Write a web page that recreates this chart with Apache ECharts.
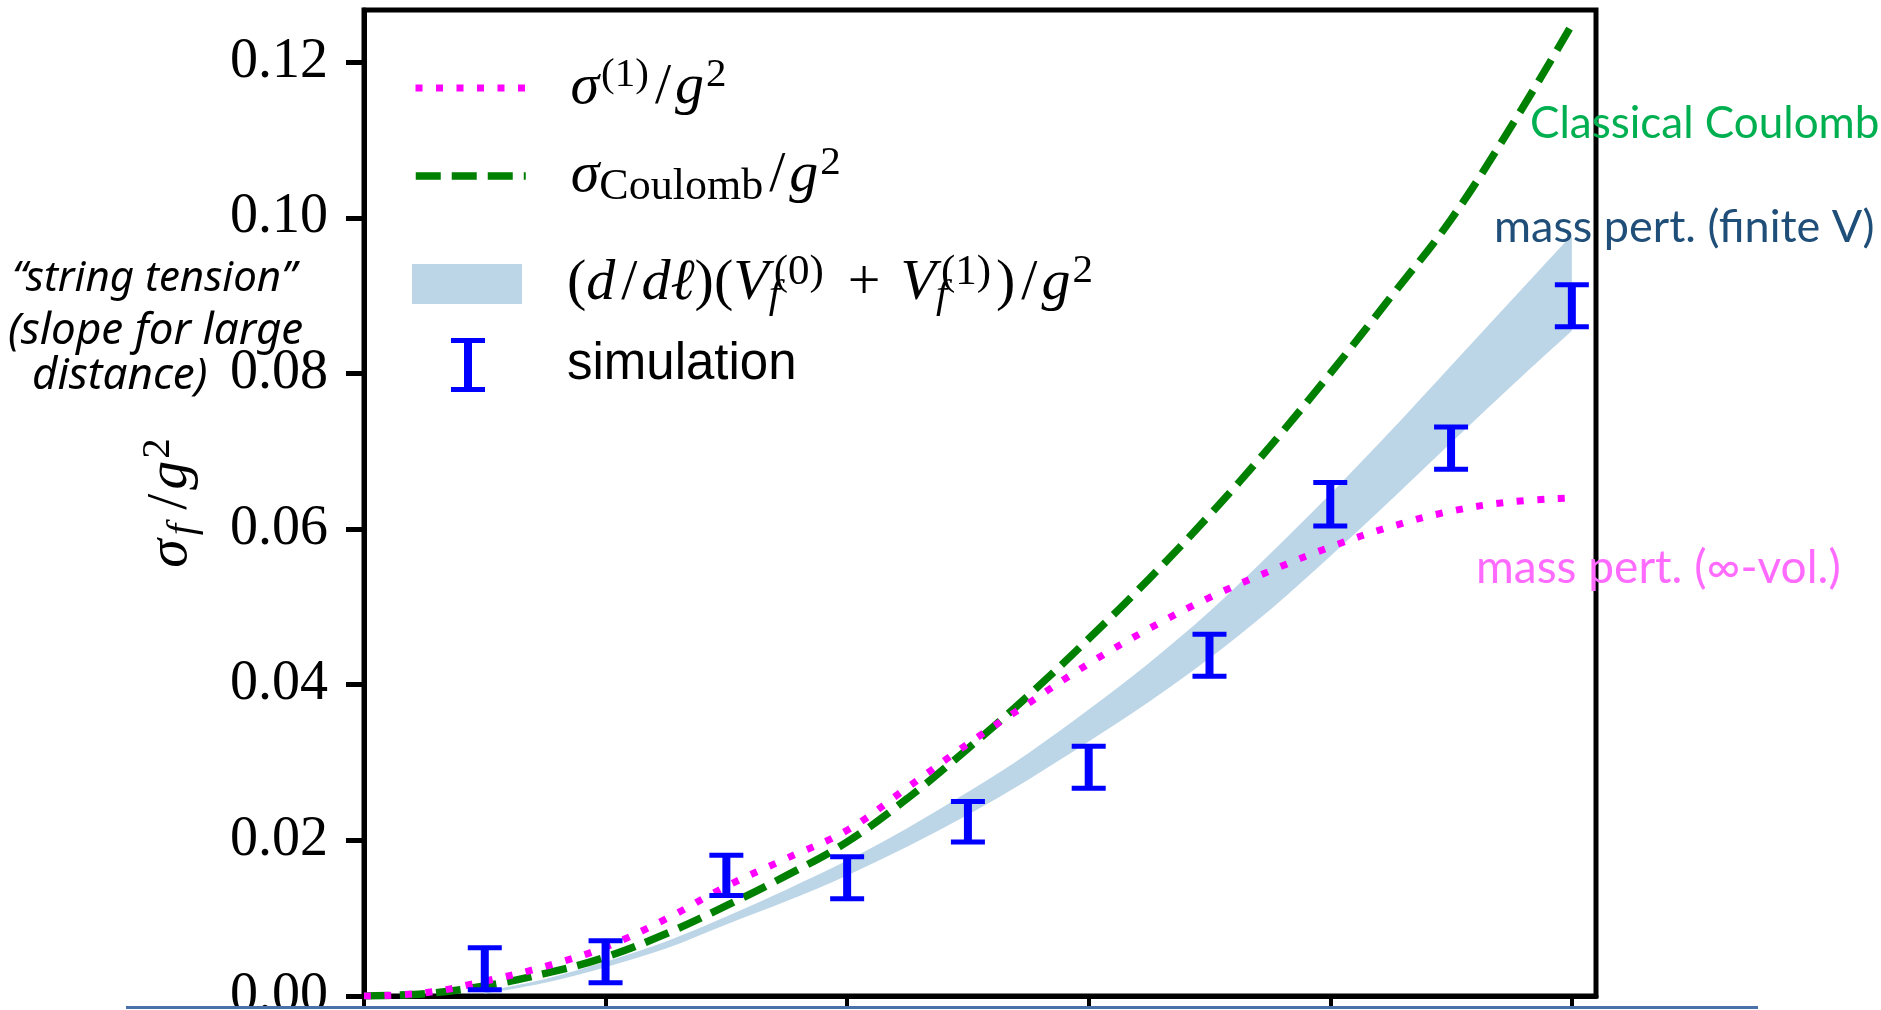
<!DOCTYPE html>
<html>
<head>
<meta charset="utf-8">
<script src="https://cdn.jsdelivr.net/npm/echarts@6/dist/echarts.min.js"></script>
<style>
  html, body { margin: 0; padding: 0; background: #fff; }
  #chart { width: 1881px; height: 1010px; }
</style>
</head>
<body>
<div id="chart"></div>
<script>
// Separation ℓ at which the curves are sampled
const ell = [0, 0.5, 1, 1.5, 2, 2.5, 3, 3.5, 4, 4.5, 5, 5.5, 6, 6.5, 7, 7.5, 8, 8.5, 9, 9.5, 10];
// First-order mass perturbation, infinite volume: σ^(1)/g²
const sigmaFirst = [0, 0.0004, 0.0019, 0.0038, 0.0063, 0.0099, 0.0141, 0.0177, 0.0213, 0.0268, 0.0324,
  0.0376, 0.0427, 0.0472, 0.0512, 0.0546, 0.0577, 0.0603, 0.0623, 0.0635, 0.0640];
// Classical Coulomb: σ_Coulomb/g²
const sigmaCoulomb = [0, 0.0003, 0.0013, 0.0029, 0.0050, 0.0080, 0.0116, 0.0155, 0.0198, 0.0254, 0.0318,
  0.0386, 0.0459, 0.0536, 0.0618, 0.0706, 0.0800, 0.0898, 0.0998, 0.1118, 0.1248];

// Finite-volume mass perturbation band (d/dℓ)(V_f^(0)+V_f^(1))/g²
const bandEll = [1, 1.5, 2, 2.5, 3, 3.5, 4, 4.5, 5, 5.5, 6, 6.5, 7, 7.5, 8, 8.5, 9, 9.5, 10];
const bandUpper = [0.0006, 0.0022, 0.0044, 0.0070, 0.0102, 0.0137, 0.0174, 0.0216, 0.0262, 0.0312,
  0.0368, 0.0428, 0.0494, 0.0568, 0.0645, 0.0726, 0.0810, 0.0894, 0.0978];
const bandLower = [0.0003, 0.0017, 0.0037, 0.0061, 0.0092, 0.0122, 0.0155, 0.0192, 0.0233, 0.0278,
  0.0327, 0.0378, 0.0434, 0.0496, 0.0565, 0.0637, 0.0711, 0.0784, 0.0855];

// Simulation results with statistical errors
const simEll = [1, 2, 3, 4, 5, 6, 7, 8, 9, 10];
const simValue = [0.0035, 0.0044, 0.0155, 0.0152, 0.0224, 0.0294, 0.0438, 0.0632, 0.0704, 0.0887];
const simError = [0.0027, 0.0027, 0.0026, 0.0027, 0.0026, 0.0027, 0.0027, 0.0028, 0.0027, 0.0027];

// Axis ticks
const yTicks = [0, 0.02, 0.04, 0.06, 0.08, 0.10, 0.12];
const xTicks = [0, 2, 4, 6, 8, 10];

// Series names
const N_FIRST = 'sigma1';
const N_COUL = 'sigmaCoulomb';
const N_BAND = 'dV';
const N_SIM = 'simulation';

const C_FIRST = '#ff00ff';
const C_COUL = '#008000';
const C_BAND = '#bcd6e8';
const C_SIM = '#0000ff';
const DASH_COUL = [25, 11];
const DASH_FIRST = [7, 13.5];

const mathFont = "'Liberation Serif', 'DejaVu Serif', serif";
const sansFont = "'Liberation Sans', 'DejaVu Sans', sans-serif";
const FS = 58, LH = 66;

const mathRich = {
  gap:  { width: 40, fontSize: 10, lineHeight: LH },
  gap4: { width: 77, fontSize: 10, lineHeight: 54 },
  it:   { fontFamily: mathFont, fontStyle: 'italic', fontSize: FS, lineHeight: LH, color: '#000' },
  n:    { fontFamily: mathFont, fontSize: FS, lineHeight: LH, color: '#000' },
  sl:   { fontFamily: mathFont, fontSize: FS, lineHeight: LH, color: '#000', padding: [0, 4, 0, 6] },
  pl:   { fontFamily: mathFont, fontSize: FS, lineHeight: LH, color: '#000', padding: [0, 20, 0, 24] },
  rp:   { fontFamily: mathFont, fontSize: FS, lineHeight: LH, color: '#000', padding: [0, 0, 0, 5] },
  supA: { fontFamily: mathFont, fontSize: 41, lineHeight: 42, verticalAlign: 'top', color: '#000', padding: [0, 0, 0, 2] },
  supB: { fontFamily: mathFont, fontSize: 43, lineHeight: 34, verticalAlign: 'top', color: '#000', padding: [0, 0, 0, 4] },
  subC: { fontFamily: mathFont, fontSize: 44, lineHeight: 28, verticalAlign: 'bottom', color: '#000' },
  subF: { fontFamily: mathFont, fontStyle: 'italic', fontSize: 41, lineHeight: 22, verticalAlign: 'bottom', color: '#000', width: 1 },
  subN: { fontFamily: mathFont, fontStyle: 'italic', fontSize: 41, lineHeight: 26, verticalAlign: 'bottom', color: '#000', padding: [0, 8, 0, 4] },
  sans: { fontFamily: sansFont, fontSize: 51, lineHeight: 54, color: '#000' }
};

const legendBase = {
  orient: 'vertical', left: 412, padding: 0, itemWidth: 110, selectedMode: false,
  itemStyle: { opacity: 0 },
  textStyle: { rich: mathRich }
};

// Cubic Bézier path through pixel points (Catmull-Rom tangents)
function bezierThrough(pts, start) {
  let d = (start ? 'M' : 'L') + pts[0][0] + ',' + pts[0][1];
  for (let i = 0; i < pts.length - 1; i++) {
    const p0 = pts[i - 1] || pts[i], p1 = pts[i], p2 = pts[i + 1], p3 = pts[i + 2] || pts[i + 1];
    const c1 = [p1[0] + (p2[0] - p0[0]) / 6, p1[1] + (p2[1] - p0[1]) / 6];
    const c2 = [p2[0] - (p3[0] - p1[0]) / 6, p2[1] - (p3[1] - p1[1]) / 6];
    d += 'C' + c1[0] + ',' + c1[1] + ',' + c2[0] + ',' + c2[1] + ',' + p2[0] + ',' + p2[1];
  }
  return d;
}

const chart = echarts.init(document.getElementById('chart'), null, { renderer: 'canvas' });

chart.setOption({
  animation: false,
  backgroundColor: '#fff',
  grid: {
    left: 364, right: 285, top: 10, bottom: 14,
    outerBoundsMode: 'none', containLabel: false,
    show: true, borderColor: '#000', borderWidth: 5, backgroundColor: 'transparent'
  },
  xAxis: {
    type: 'value', min: 0, max: 10.2,
    axisLine: { show: true, lineStyle: { color: '#000', width: 5 } },
    axisTick: { show: true, inside: false, length: 12, lineStyle: { color: '#000', width: 4 }, customValues: xTicks },
    axisLabel: { show: false, customValues: xTicks },
    splitLine: { show: false }
  },
  yAxis: {
    type: 'value', min: 0, max: 0.1267,
    name: '{it|σ}{subN|f}{sl|/}{it|g}{supA|2}',
    nameLocation: 'middle', nameGap: 160, nameRotate: 90,
    nameTextStyle: { rich: mathRich },
    axisLine: { show: true, lineStyle: { color: '#000', width: 5 } },
    axisTick: { show: true, inside: false, length: 18, lineStyle: { color: '#000', width: 5 }, customValues: yTicks },
    axisLabel: {
      fontFamily: mathFont, fontSize: 56, color: '#000', margin: 36,
      customValues: yTicks, formatter: v => v.toFixed(2)
    },
    splitLine: { show: false }
  },
  legend: [
    Object.assign({}, legendBase, {
      top: 55, itemHeight: 2, data: [{ name: N_FIRST }],
      lineStyle: { color: C_FIRST, width: 7, type: DASH_FIRST },
      formatter: () => '{gap| }{it|σ}{supA|(1)}{sl|/}{it|g}{supA|2}'
    }),
    Object.assign({}, legendBase, {
      top: 143, itemHeight: 2, data: [{ name: N_COUL }],
      lineStyle: { color: C_COUL, width: 7.5, type: DASH_COUL },
      formatter: () => '{gap| }{it|σ}{subC|Coulomb}{sl|/}{it|g}{supA|2}'
    }),
    Object.assign({}, legendBase, {
      top: 251, itemHeight: 40, data: [{ name: N_BAND, icon: 'rect' }],
      itemStyle: { color: C_BAND, opacity: 1 },
      formatter: () => '{gap| }{n|(}{it|d}{sl|/}{it|dℓ}{n|)(}{it|V}{subF|f}{supB|(0)}{pl|+}{it|V}{subF|f}{supB|(1)}{rp|)}{sl|/}{it|g}{supA|2}'
    }),
    Object.assign({}, legendBase, {
      left: 451, top: 338, itemWidth: 34, itemHeight: 54,
      itemStyle: { color: C_SIM, opacity: 1 },
      data: [{ name: N_SIM, icon: 'path://M0,0H34V5H21V49H34V54H0V49H13V5H0Z' }],
      formatter: () => '{gap4| }{sans|simulation}'
    })
  ],
  series: [
    {
      name: N_BAND, type: 'custom', z: 1, clip: true,
      itemStyle: { color: C_BAND },
      data: bandEll.map((x, i) => [x, bandLower[i], bandUpper[i]]),
      encode: { x: 0, y: [1, 2] },
      renderItem: (params, api) => {
        if (params.dataIndex !== 0) return null;
        const top = bandEll.map((x, i) => api.coord([x, bandUpper[i]]));
        const bottom = bandEll.map((x, i) => api.coord([x, bandLower[i]])).reverse();
        const d = bezierThrough(top, true) + bezierThrough(bottom, false) + 'Z';
        return { type: 'path', shape: { pathData: d }, style: { fill: C_BAND } };
      }
    },
    {
      name: N_COUL, type: 'line', z: 2, symbol: 'none', smooth: 0.4,
      data: ell.map((x, i) => [x, sigmaCoulomb[i]]),
      lineStyle: { color: C_COUL, width: 7.5, type: DASH_COUL },
      itemStyle: { color: C_COUL }
    },
    {
      name: N_FIRST, type: 'line', z: 3, symbol: 'none', smooth: 0.4,
      data: ell.map((x, i) => [x, sigmaFirst[i]]),
      lineStyle: { color: C_FIRST, width: 7, type: DASH_FIRST },
      itemStyle: { color: C_FIRST }
    },
    {
      name: N_SIM, type: 'custom', z: 4,
      itemStyle: { color: C_SIM },
      data: simEll.map((x, i) => [x, simValue[i] - simError[i], simValue[i] + simError[i]]),
      encode: { x: 0, y: [1, 2] },
      renderItem: (params, api) => {
        const x = api.value(0);
        const pLo = api.coord([x, api.value(1)]);
        const pHi = api.coord([x, api.value(2)]);
        const stemW = 8, capW = 34, capH = 5;
        const fill = { fill: C_SIM };
        return {
          type: 'group',
          children: [
            { type: 'rect', shape: { x: pHi[0] - stemW / 2, y: pHi[1], width: stemW, height: pLo[1] - pHi[1] }, style: fill },
            { type: 'rect', shape: { x: pHi[0] - capW / 2, y: pHi[1] - capH / 2, width: capW, height: capH }, style: fill },
            { type: 'rect', shape: { x: pLo[0] - capW / 2, y: pLo[1] - capH / 2, width: capW, height: capH }, style: fill }
          ]
        };
      }
    }
  ],
  graphic: [
    { type: 'text', x: 1530, y: 124, z: 10,
      style: { text: 'Classical Coulomb', font: "44px Lato, 'Open Sans', sans-serif", fill: '#00b050', verticalAlign: 'middle' } },
    { type: 'text', x: 1494, y: 227, z: 10,
      style: { text: 'mass pert. (finite V)', font: "45px Lato, 'Open Sans', sans-serif", fill: '#1f4e79', verticalAlign: 'middle' } },
    { type: 'text', x: 1476, y: 568, z: 10,
      style: { text: 'mass pert. (∞-vol.)', font: "46px Lato, 'Open Sans', sans-serif", fill: '#ff6bff', verticalAlign: 'middle' } },
    { type: 'text', x: 12, y: 279, z: 10,
      style: { text: '“string tension”', font: "italic 42px 'Noto Sans', sans-serif", fill: '#000', verticalAlign: 'middle' } },
    { type: 'text', x: 8, y: 331, z: 10,
      style: { text: '(slope for large', font: "italic 44px 'Noto Sans', sans-serif", fill: '#000', verticalAlign: 'middle' } },
    { type: 'text', x: 32, y: 376, z: 10,
      style: { text: 'distance)', font: "italic 44px 'Noto Sans', sans-serif", fill: '#000', verticalAlign: 'middle' } },
    { type: 'rect', z: 20, shape: { x: 0, y: 1006, width: 1881, height: 4 }, style: { fill: '#fff' } },
    { type: 'line', z: 21, shape: { x1: 126, y1: 1007.5, x2: 1758, y2: 1007.5 }, style: { stroke: '#4a72a8', lineWidth: 3 } }
  ]
});
</script>
</body>
</html>
